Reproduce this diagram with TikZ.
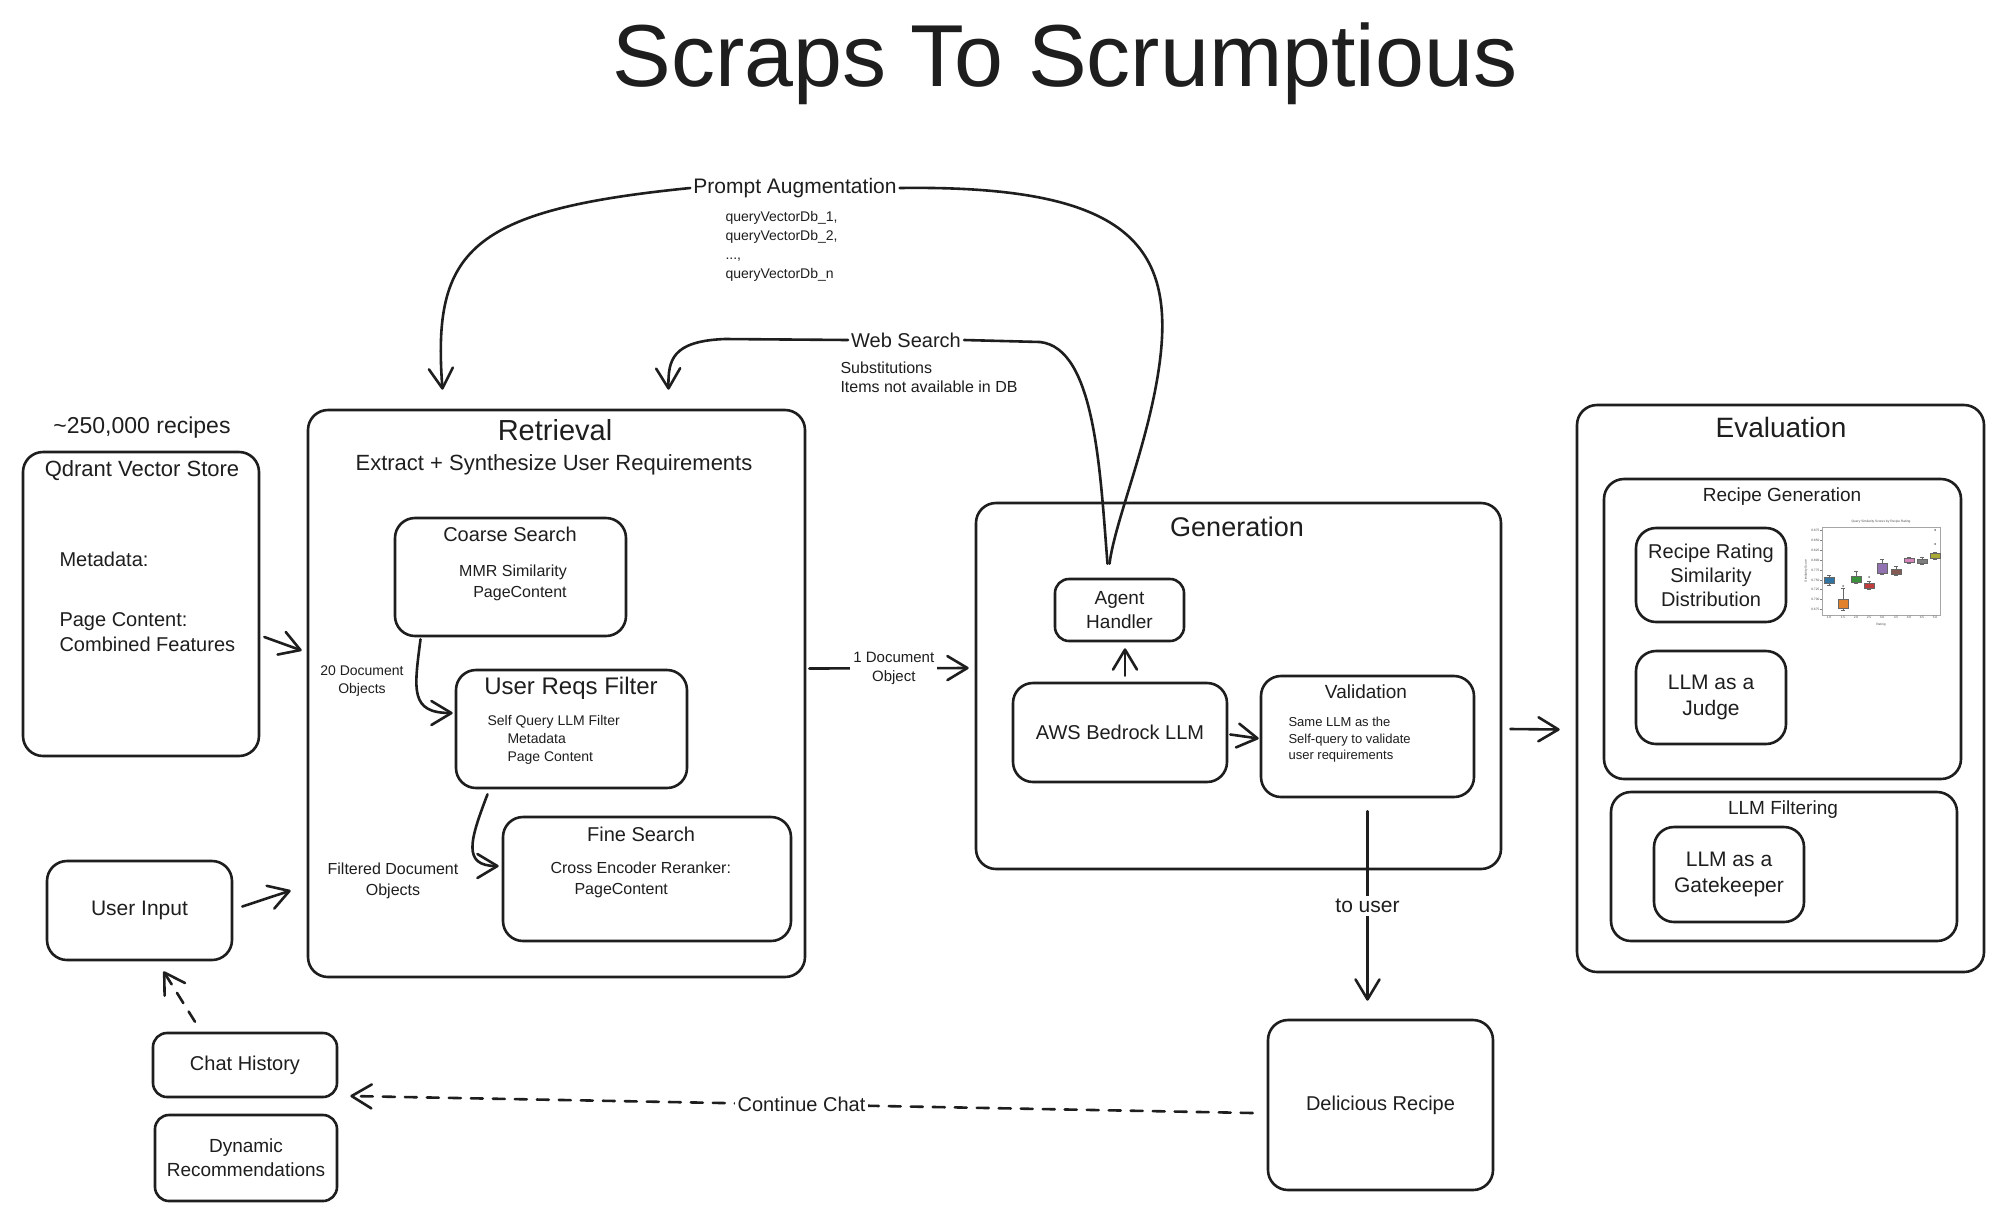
\documentclass[tikz,border=0pt]{standalone}
\usepackage{fontspec}
\setmainfont{Liberation Sans}
\usetikzlibrary{arrows.meta,calc}
\definecolor{ink}{HTML}{1E1E1E}
\definecolor{cb}{HTML}{3274A1}
\definecolor{co}{HTML}{E1812C}
\definecolor{cg}{HTML}{3A923A}
\definecolor{cr}{HTML}{C03D3E}
\definecolor{cp}{HTML}{9372B2}
\definecolor{cbr}{HTML}{845B53}
\definecolor{cpk}{HTML}{D684BD}
\definecolor{cgy}{HTML}{7F7F7F}
\definecolor{col}{HTML}{A9AA35}
\begin{document}
\begin{tikzpicture}[x=1pt,y=-1pt,
  every node/.style={text=ink},
  fs/.style 2 args={font=\fontsize{#1}{#2}\selectfont},
  box/.style={draw=ink, line width=2.6pt, rounded corners=20pt, inner sep=0pt, align=center},
  sbox/.style={box, rounded corners=14pt},
  conn/.style={draw=ink, line width=2.6pt, line cap=round},
  arr/.style={conn, -{Straight Barb[length=20pt,width=24pt,line cap=round,round]}},
  dsh/.style={dash pattern=on 12pt off 10pt},
  lbl/.style={fill=white, inner sep=3pt, align=center},
  tiny/.style={fs={3.2}{3.6}, text=black!70, inner sep=0.5pt},
  ]
\useasboundingbox[fill=white] (0,0) rectangle (2010,1219);

% ---------- title ----------
\node[fs={88}{98}] (T) at (1065,64) {Scraps To Scrumptious};

% ---------- Qdrant ----------
\node[fs={23}{27}] (Rec) at (142,428) {\textasciitilde 250,000 recipes};
\node[box, minimum width=236pt, minimum height=304pt] (Qdrant) at (141,604) {};
\node[fs={22}{26}] (QdT) at (142,471) {Qdrant Vector Store};
\node[fs={20}{25}, anchor=west] (QdM) at (56,559) {Metadata:};
\node[fs={20}{25}, anchor=west, align=left] (QdP) at (56,632) {Page Content:\\Combined Features};

% ---------- User input / chat ----------
\node[box, fs={21}{25}, minimum width=185pt, minimum height=99pt] (UserInput) at (139.5,910.5) {User Input};
\node[sbox, fs={20}{24}, minimum width=184pt, minimum height=64pt] (ChatHistory) at (245,1065) {Chat History};
\node[sbox, fs={19}{24}, minimum width=182pt, minimum height=86pt] (DynRec) at (246,1158) {Dynamic\\Recommendations};

% ---------- Retrieval ----------
\node[box, minimum width=497pt, minimum height=567pt] (Retrieval) at (556.5,693.5) {};
\node[fs={29}{34}] (RetT) at (555,430) {Retrieval};
\node[fs={22}{26}] (RetS) at (554,465) {Extract + Synthesize User Requirements};

\node[box, minimum width=231pt, minimum height=118pt] (Coarse) at (510.5,577) {};
\node[fs={20}{24}] (CoarseT) at (510,534) {Coarse Search};
\node[fs={16}{21}, align=center] (CoarseB) at (513,583) {MMR Similarity\\\hspace*{14pt}PageContent};

\node[box, minimum width=231pt, minimum height=118pt] (UserReqs) at (571.5,729) {};
\node[fs={24}{28}] (UserReqsT) at (571,688) {User Reqs Filter};
\node[fs={14}{18}, anchor=west, align=left] (UserReqsB) at (484,740) {Self Query LLM Filter\\\hspace*{20pt}Metadata\\\hspace*{20pt}Page Content};

\node[box, minimum width=288pt, minimum height=124pt] (Fine) at (647,879) {};
\node[fs={20}{24}] (FineT) at (641,834) {Fine Search};
\node[fs={16}{21}, anchor=west, align=left] (FineB) at (547,880) {Cross Encoder Reranker:\\\hspace*{24pt}PageContent};

\node[fs={14}{18}, align=center] (L20) at (362,681) {20 Document\\Objects};
\node[fs={16}{21}, align=center] (LFilt) at (393,881) {Filtered Document\\Objects};

% ---------- Generation ----------
\node[box, minimum width=525pt, minimum height=366pt] (Generation) at (1238.5,686) {};
\node[fs={27}{32}] (GenT) at (1237,527) {Generation};
\node[sbox, fs={19}{24}, minimum width=129pt, minimum height=62pt] (Agent) at (1119.5,610) {Agent\\Handler};
\node[box, fs={20}{24}, minimum width=214pt, minimum height=99pt] (AWS) at (1120,732.5) {AWS Bedrock LLM};
\node[box, minimum width=213pt, minimum height=121pt] (Validation) at (1367.5,736.5) {};
\node[fs={19}{23}] (ValT) at (1366,692) {Validation};
\node[fs={13}{16.5}, anchor=west, align=left] (ValB) at (1285,740) {Same LLM as the\\Self-query to validate\\user requirements};

\node[box, fs={20}{24}, minimum width=225pt, minimum height=170pt] (Delicious) at (1380.5,1105) {Delicious Recipe};

% ---------- Evaluation ----------
\node[box, minimum width=407pt, minimum height=567pt] (Evaluation) at (1780.5,688.5) {};
\node[fs={28}{33}] (EvalT) at (1781,427) {Evaluation};
\node[box, minimum width=357pt, minimum height=300pt] (RecipeGen) at (1782.5,629) {};
\node[fs={19}{23}] (RecipeGenT) at (1782,497) {Recipe Generation};
\node[box, fs={20}{24}, minimum width=150pt, minimum height=94pt] (RecipeRating) at (1711,575) {Recipe Rating\\Similarity\\Distribution};
\node[box, fs={21}{26}, minimum width=150pt, minimum height=93pt] (Judge) at (1711,697.5) {LLM as a\\Judge};
\node[box, minimum width=346pt, minimum height=149pt] (LLMFilt) at (1784,866.5) {};
\node[fs={19}{23}] (LLMFiltT) at (1783,810) {LLM Filtering};
\node[box, fs={21}{26}, minimum width=150pt, minimum height=95pt] (Gatekeeper) at (1729,874.5) {LLM as a\\Gatekeeper};

% ---------- small box plot ----------
\draw[black!35, line width=0.4pt] (1822,527) rectangle (1940,615);
\node[tiny] (ChartT) at (1881,522) {Query Similarity Scores by Recipe Rating};
\foreach \yy/\lab [count=\i] in {530/0.875,540/0.850,550/0.825,560/0.800,570/0.775,580/0.750,589/0.725,599/0.700,609/0.675}{
  \draw[black!50, line width=0.3pt] (1820,\yy) -- (1822,\yy);
  \node[tiny, anchor=east] (yt\i) at (1820,\yy) {\lab};
}
\foreach \xx/\lab [count=\i] in {1829/1.0,1843/1.5,1856/2.0,1869/2.5,1882/3.0,1896/3.5,1909/4.0,1922/4.5,1935/5.0}{
  \node[tiny, anchor=north] (xt\i) at (\xx,616) {\lab};
}
\node[tiny] (ChartX) at (1881,625) {Rating};
\node[tiny, rotate=90] (ChartY) at (1806,571) {Similarity Score};
\foreach \xx/\lo/\hi/\wl/\wh/\c in {1829/577/583/575/585/cb, 1843/599/608/588/610/co, 1856/576/582/571/583/cg, 1869/583/588/581/589/cr, 1882/563/573/559/574/cp, 1896/569/574/566/575/cbr, 1909/558/562/557/563/cpk, 1922/559/563/557/564/cgy, 1935/553/558/552/559/col}{
  \draw[black!60, line width=0.35pt] (\xx,\wl) -- (\xx,\wh);
  \draw[black!60, line width=0.35pt] (\xx-2,\wl) -- (\xx+2,\wl) (\xx-2,\wh) -- (\xx+2,\wh);
  \filldraw[fill=\c, draw=black!60, line width=0.35pt] (\xx-5,\lo) rectangle (\xx+5,\hi);
}
\draw[black!60, line width=0.3pt] (1843,586) circle (0.8) (1935,530) circle (0.8) (1935,544) circle (0.8) (1869,577) circle (0.8);

% ---------- top labels ----------
\node[fs={21}{25}, inner sep=3pt] (PA) at (795,188) {Prompt Augmentation};
\node[fs={14}{19}, anchor=west, align=left] (PAq) at (722,246) {queryVectorDb\_1,\\queryVectorDb\_2,\\...,\\queryVectorDb\_n};
\node[fs={20}{24}, inner sep=3pt] (WS) at (906,340) {Web Search};
\node[fs={16}{19}, anchor=west, align=left] (WSs) at (837,377) {Substitutions\\Items not available in DB};

% ---------- connectors ----------
\draw[arr] ($(Qdrant.east)+(4,33)$) -- ($(Retrieval.west)+(-5,-43)$);
\draw[arr] ($(UserInput.east)+(9,-4)$) -- ($(Retrieval.west)+(-16,197)$);
\draw[arr] ($(Coarse.south)+(-90,2)$) .. controls (414,690) and (410,713) .. ($(UserReqs.west)+(-2,-16)$);
\draw[arr] ($(UserReqs.south)+(-84,5)$) .. controls (470,840) and (462,866) .. ($(Fine.west)+(-3,-13)$);
\draw[arr] ($(Retrieval.east)+(3,-25)$) -- node[lbl, fs={15}{19}, pos=0.53] (L1) {1 Document\\Object} ($(Generation.west)+(-6,-18)$);
\draw[arr] ($(AWS.north)+(5,-6)$) -- ($(Agent.south)+(5.5,6)$);
\draw[arr] ($(AWS.east)+(2,2)$) -- ($(Validation.west)+(-1,2)$);
\draw[arr] ($(Generation.east)+(8,43)$) -- ($(Evaluation.west)+(-16,41)$);
\draw[arr] ($(Validation.south)+(0,13)$) -- node[lbl, fs={21}{25}] (TU) {to user} ($(Delicious.north)+(-13,-18)$);
\draw[arr, dsh] ($(Delicious.west)+(-14,8)$) -- node[lbl, fs={20}{24}] (CC) {Continue Chat} ($(ChatHistory.east)+(12,31)$);
\draw[arr, dsh] ($(ChatHistory.north)+(-50,-10)$) -- ($(UserInput.south)+(24,10)$);

% prompt augmentation loop
\draw[conn] (PA.east) .. controls (1120,185) and (1175,240) .. (1160,360) .. controls (1150,440) and (1115,520) .. ($(Agent.north)+(-10,-14)$);
\draw[arr] (PA.west) .. controls (470,210) and (432,250) .. ($(Retrieval.north)+(-114,-19)$);
% web search loop
\draw[conn] (WS.east) -- (1040,342) .. controls (1095,348) and (1100,470) .. ($(Agent.north)+(-12,-14)$);
\draw[arr] (WS.west) -- (725,339) .. controls (672,341) and (668,360) .. ($(Retrieval.north)+(112,-19)$);
\end{tikzpicture}
\end{document}
